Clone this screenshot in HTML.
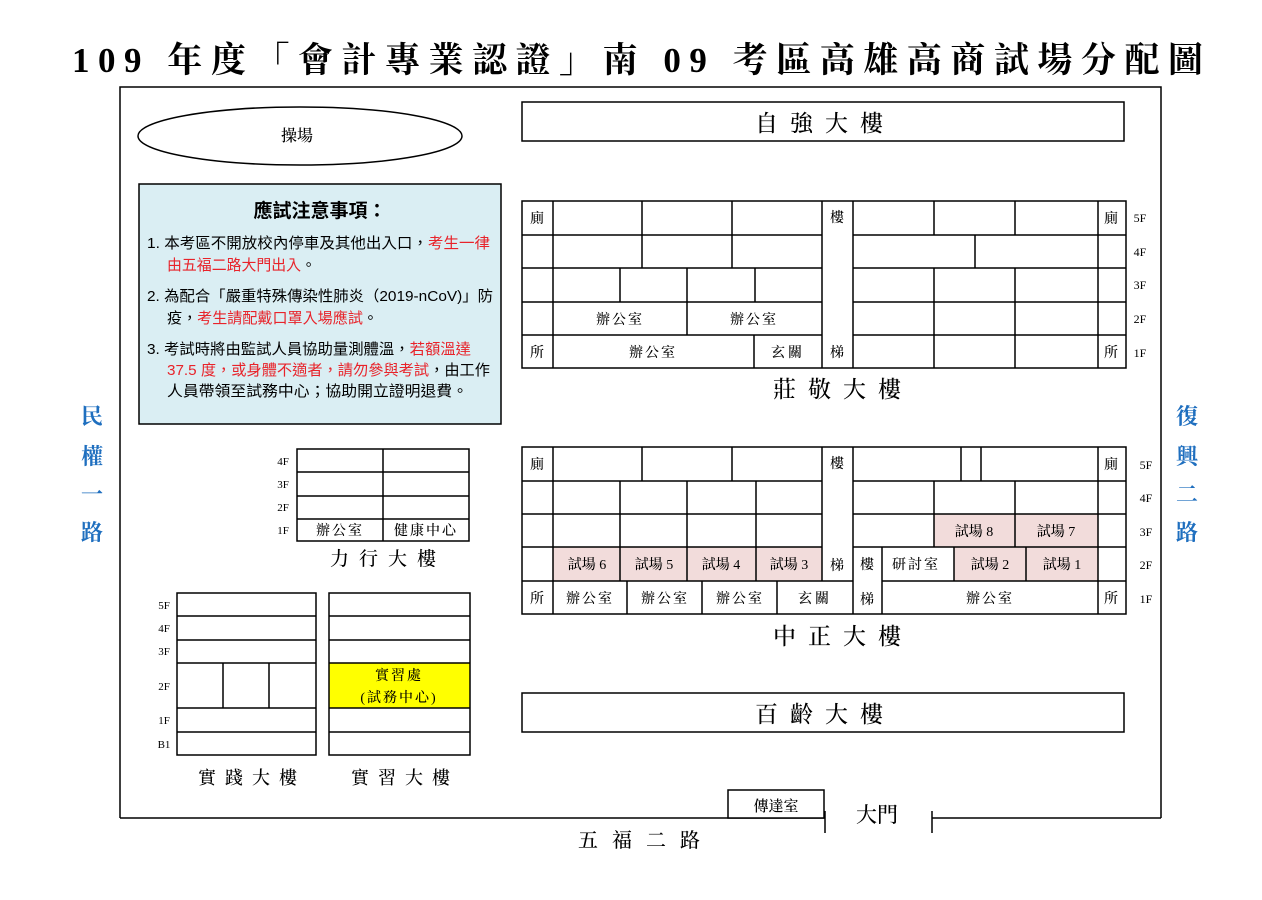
<!DOCTYPE html>
<html><head><meta charset="utf-8"><style>
html,body{margin:0;padding:0;background:#fff;}
svg{display:block;}
.s{font-family:"Liberation Serif","Noto Serif CJK SC",serif;fill:#000;}
.n{font-family:"Liberation Sans","Noto Sans CJK TC",sans-serif;}
.r{fill:#e8232a;}
.b{fill:#1f6fbf;font-weight:bold;}
</style></head><body>
<svg width="1262" height="900" viewBox="0 0 1262 900" xmlns="http://www.w3.org/2000/svg">
<g stroke="#000" stroke-width="1.5" fill="none">
<path d="M120,818 V87 H1161 V818 M120,818 H825 M932,818 H1161"/>
<path d="M825,811 V833 M932,811 V833"/>
<rect x="728" y="790" width="96" height="28" fill="#fff"/>
<ellipse cx="300" cy="136" rx="162" ry="29"/>
<rect x="139" y="184" width="362" height="240" fill="#daeef3"/>
<rect x="522" y="102" width="602" height="39"/>
<rect x="522" y="693" width="602" height="39"/>
</g>
<g fill="#f2dcdb">
<rect x="553" y="547" width="269" height="34"/>
<rect x="934" y="514" width="164" height="33"/>
<rect x="954" y="547" width="144" height="34"/>
<rect x="329" y="663" width="141" height="45" fill="#ffff00"/>
</g>
<g stroke="#000" stroke-width="1.5" fill="none">
<rect x="522" y="201" width="604" height="167"/>
<path d="M553,201V368 M822,201V368 M853,201V368 M1098,201V368"/>
<path d="M522,235H822 M853,235H1126 M522,268H822 M853,268H1126 M522,302H822 M853,302H1126 M522,335H822 M853,335H1126"/>
<path d="M642,201V268 M732,201V268 M620,268V302 M687,268V302 M755,268V302 M687,302V335 M754,335V368"/>
<path d="M934,201V235 M1015,201V235 M975,235V268 M934,268V368 M1015,268V368"/>
<rect x="522" y="447" width="604" height="167"/>
<path d="M553,447V614 M1098,447V614 M822,447V581 M853,447V614 M882,547V614"/>
<path d="M522,481H822 M853,481H1126 M522,514H822 M853,514H1126 M522,547H822 M853,547H1126 M522,581H853 M882,581H1126"/>
<path d="M642,447V481 M732,447V481 M620,481V581 M687,481V581 M756,481V581 M627,581V614 M702,581V614 M777,581V614"/>
<path d="M961,447V481 M981,447V481 M934,481V547 M1015,481V547 M954,547V581 M1026,547V581"/>
<rect x="297" y="449" width="172" height="92"/>
<path d="M383,449V541 M297,472H469 M297,496H469 M297,519H469"/>
<rect x="177" y="593" width="139" height="162"/>
<path d="M177,616H316 M177,640H316 M177,663H316 M177,708H316 M177,732H316 M223,663V708 M269,663V708"/>
<rect x="329" y="593" width="141" height="162"/>
<path d="M329,616H470 M329,640H470 M329,663H470 M329,708H470 M329,732H470"/>
</g>

<text class="s" x="72" y="72" font-size="35" font-weight="bold" textLength="1131" lengthAdjust="spacing">109 年度「會計專業認證」南 09 考區高雄高商試場分配圖</text>

<g class="s" font-size="16" text-anchor="middle" font-weight="500">
<text x="297" y="141">操場</text>
<text x="825" y="131" font-size="23" letter-spacing="12">自強大樓</text>
<text x="843" y="397" font-size="23" letter-spacing="12">莊敬大樓</text>
<text x="843" y="644" font-size="23" letter-spacing="12">中正大樓</text>
<text x="825" y="722" font-size="23" letter-spacing="12">百齡大樓</text>
<text x="388" y="565" font-size="19" letter-spacing="10">力行大樓</text>
<text x="252" y="784" font-size="18" letter-spacing="9">實踐大樓</text>
<text x="405" y="784" font-size="18" letter-spacing="9">實習大樓</text>
<text x="646" y="847" font-size="20" letter-spacing="14">五福二路</text>
<text x="877" y="822" font-size="21">大門</text>
<text x="776" y="811" font-size="15">傳達室</text>
</g>

<g class="s b" font-size="22" text-anchor="middle">
<text x="92" y="424">民</text><text x="92" y="464">權</text><text x="92" y="502">一</text><text x="92" y="540">路</text>
<text x="1187" y="424">復</text><text x="1187" y="464">興</text><text x="1187" y="502">二</text><text x="1187" y="540">路</text>
</g>

<g class="s" font-size="14" text-anchor="middle" font-weight="500">
<text x="537" y="223">廁</text><text x="837" y="222">樓</text><text x="1111" y="223">廁</text>
<text x="537" y="357">所</text><text x="837" y="357">梯</text><text x="1111" y="357">所</text>
<text x="620" y="324" letter-spacing="2">辦公室</text><text x="754" y="324" letter-spacing="2">辦公室</text>
<text x="653" y="357" letter-spacing="2">辦公室</text><text x="788" y="357" letter-spacing="3">玄關</text>
<text x="1140" y="222" font-size="12">5F</text><text x="1140" y="256" font-size="12">4F</text><text x="1140" y="289" font-size="12">3F</text><text x="1140" y="323" font-size="12">2F</text><text x="1140" y="357" font-size="12">1F</text>

<text x="537" y="469">廁</text><text x="837" y="468">樓</text><text x="1111" y="469">廁</text>
<text x="1146" y="469" font-size="12">5F</text><text x="1146" y="502" font-size="12">4F</text><text x="1146" y="536" font-size="12">3F</text><text x="1146" y="569" font-size="12">2F</text><text x="1146" y="603" font-size="12">1F</text>
<text x="974" y="536">試場 8</text><text x="1056" y="536">試場 7</text>
<text x="587" y="569">試場 6</text><text x="654" y="569">試場 5</text><text x="721" y="569">試場 4</text><text x="789" y="569">試場 3</text>
<text x="837" y="570">梯</text><text x="867" y="569">樓</text>
<text x="916" y="569" letter-spacing="2">研討室</text><text x="990" y="569">試場 2</text><text x="1062" y="569">試場 1</text>
<text x="537" y="603">所</text><text x="590" y="603" letter-spacing="2">辦公室</text><text x="665" y="603" letter-spacing="2">辦公室</text><text x="740" y="603" letter-spacing="2">辦公室</text><text x="815" y="603" letter-spacing="3">玄關</text>
<text x="867" y="604">梯</text><text x="990" y="603" letter-spacing="2">辦公室</text><text x="1111" y="603">所</text>

<g font-size="11"><text x="283" y="465">4F</text><text x="283" y="488">3F</text><text x="283" y="511">2F</text><text x="283" y="534">1F</text></g>
<text x="340" y="535" letter-spacing="2">辦公室</text><text x="426" y="535" letter-spacing="2">健康中心</text>
<g font-size="11"><text x="164" y="609">5F</text><text x="164" y="632">4F</text><text x="164" y="655">3F</text><text x="164" y="690">2F</text><text x="164" y="724">1F</text><text x="164" y="748">B1</text></g>
<text x="399" y="680" letter-spacing="2">實習處</text>
<text x="399" y="702" letter-spacing="2">(試務中心)</text>
</g>

<g class="n" font-size="15" fill="#000">
<text x="320" y="217" font-size="19" font-weight="bold" text-anchor="middle">應試注意事項：</text>
<text x="147" y="248" textLength="343" lengthAdjust="spacingAndGlyphs">1. 本考區不開放校內停車及其他出入口，<tspan class="r">考生一律</tspan></text>
<text x="167" y="270" textLength="149" lengthAdjust="spacingAndGlyphs"><tspan class="r">由五福二路大門出入</tspan>。</text>
<text x="147" y="301" textLength="346" lengthAdjust="spacingAndGlyphs">2. 為配合「嚴重特殊傳染性肺炎（2019-nCoV)」防</text>
<text x="167" y="323" textLength="211" lengthAdjust="spacingAndGlyphs">疫，<tspan class="r">考生請配戴口罩入場應試</tspan>。</text>
<text x="147" y="354" textLength="324" lengthAdjust="spacingAndGlyphs">3. 考試時將由監試人員協助量測體溫，<tspan class="r">若額溫達</tspan></text>
<text x="167" y="375" textLength="323" lengthAdjust="spacingAndGlyphs"><tspan class="r">37.5 度，或身體不適者，請勿參與考試</tspan>，由工作</text>
<text x="167" y="396" textLength="301" lengthAdjust="spacingAndGlyphs">人員帶領至試務中心；協助開立證明退費。</text>
</g>
</svg>
</body></html>
